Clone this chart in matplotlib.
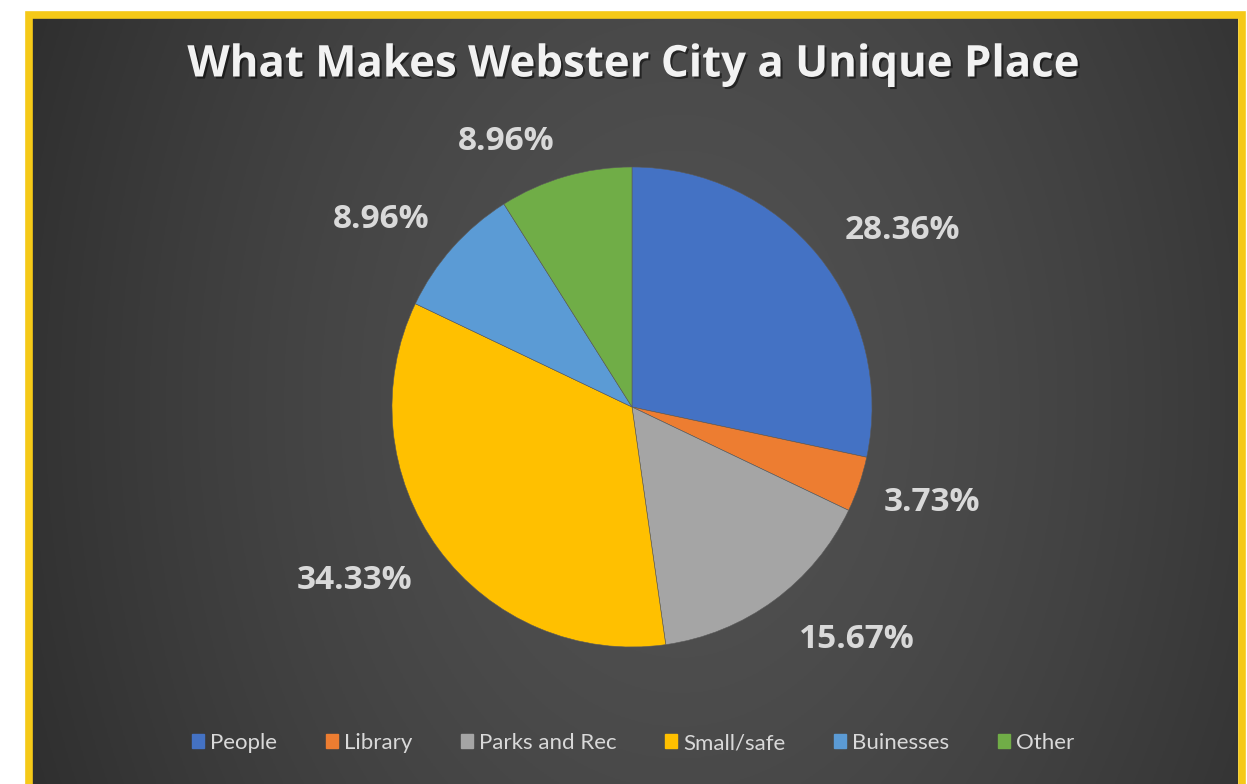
import numpy as np
import matplotlib
matplotlib.use("Agg")
import matplotlib.pyplot as plt
import matplotlib.patheffects as pe
from matplotlib.patches import Rectangle

# survey answers
categories = ["People", "Library", "Parks and Rec", "Small/safe", "Buinesses", "Other"]
shares = [28.36, 3.73, 15.67, 34.33, 8.96, 8.96]
colors = ["#4472C4", "#ED7D31", "#A5A5A5", "#FFC000", "#5B9BD5", "#70AD47"]
title = "What Makes Webster City a Unique Place"

W, H = 1247, 784
fig = plt.figure(figsize=(W / 100, H / 100), dpi=100)
fig.patch.set_facecolor("white")

# background with soft radial shading, drawn in pixel coords (y up)
bg = fig.add_axes([0, 0, 1, 1])
bg.set_xlim(0, W)
bg.set_ylim(0, H)
bg.axis("off")
xx, yy = np.meshgrid(np.linspace(32, 1238, 400), np.linspace(0, 769, 300))
d = np.sqrt(((xx - 680) / 650) ** 2 + ((yy - 380) / 900) ** 2)
shade = np.clip(0.32 - 0.12 * d ** 1.5, 0.18, 0.32)
img = np.dstack([shade, shade, shade])
bg.imshow(img, extent=[32, 1238, 0, 769], origin="lower", aspect="auto", zorder=0)
bg.add_patch(Rectangle((28.5, -10), 1213, 779.5, fill=False, edgecolor="#F5C918",
                       linewidth=5.5, zorder=1))

bg.text(633, 719, title, ha="center", va="center", fontsize=31.5, fontweight="bold",
        family=["Open Sans", "DejaVu Sans"], color="#F2F2F2",
        path_effects=[pe.withSimplePatchShadow(offset=(1.5, -1.5), shadow_rgbFace="black", alpha=0.5)])

# pie
ax = fig.add_axes([0, 0, 1, 1])
cx, cy, r = 632, 377, 240
wedges, _, autotexts = ax.pie(
    shares, colors=colors, startangle=90, counterclock=False, center=(cx, cy), radius=r,
    autopct="%.2f%%", pctdistance=1.33,
    wedgeprops=dict(edgecolor="#5a5a5a", linewidth=0.4),
    textprops=dict(fontsize=24, fontweight="bold", color="#D9D9D9",
                   family=["Open Sans", "DejaVu Sans"]))
ax.set_xlim(0, W)
ax.set_ylim(0, H)
ax.set_aspect("equal")
ax.axis("off")

# nudge label angles (degrees) the way the best-fit layout places them
nudges = [-5.5, 1.5, 8.0, -4.5, 4.5, 9.0]
dists = [1.35, 1.31, 1.34, 1.36, 1.31, 1.23]
for w, t, dn, rd in zip(wedges, autotexts, nudges, dists):
    mid = np.deg2rad((w.theta1 + w.theta2) / 2 + dn)
    t.set_position((cx + rd * r * np.cos(mid), cy + rd * r * np.sin(mid) - 2))

# legend
handles = [Rectangle((0, 0), 1, 1, color=c) for c in colors]
leg = fig.legend(handles, categories, loc="center", bbox_to_anchor=(633 / W, (784 - 743) / H),
                 ncol=6, frameon=False, handlelength=0.55, handleheight=0.55, handletextpad=0.25,
                 columnspacing=2.2,
                 prop=dict(family=["Lato", "DejaVu Sans"], size=16))
for t in leg.get_texts():
    t.set_color("#D9D9D9")

fig.savefig("out.png", dpi=100)
